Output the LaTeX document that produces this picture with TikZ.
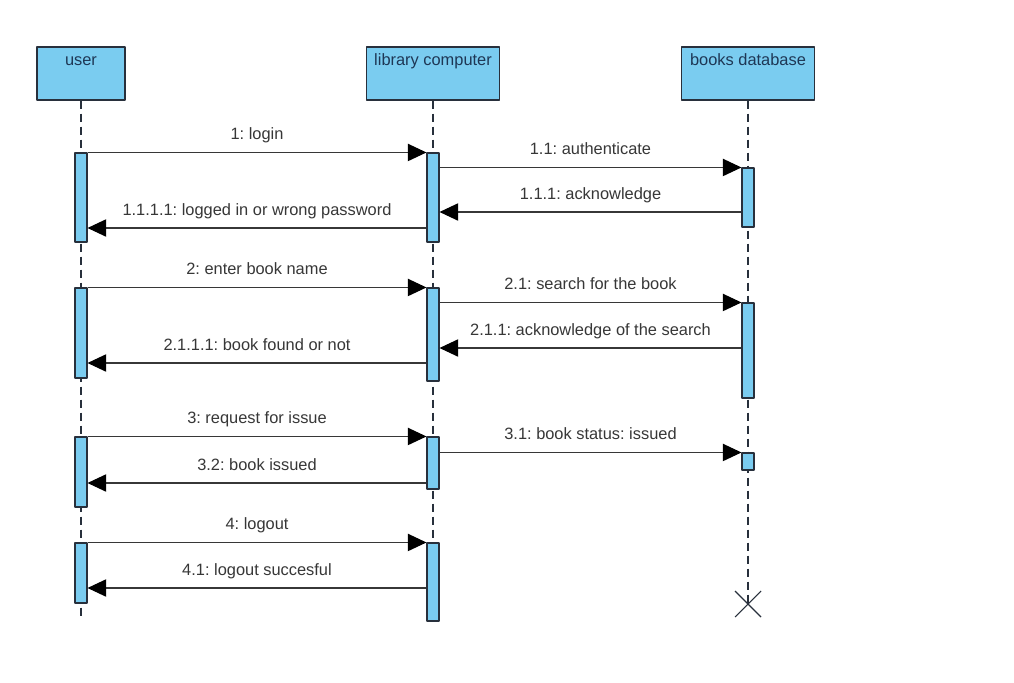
\documentclass[tikz,border=0pt]{standalone}
\usepackage{fontspec}
\setmainfont{Liberation Sans}
\usetikzlibrary{arrows.meta,fit}
\definecolor{actblue}{RGB}{122,204,240}
\definecolor{edge}{RGB}{40,48,60}
\definecolor{ink}{RGB}{55,55,55}
\definecolor{headink}{RGB}{30,55,85}
\frenchspacing

\begin{document}
\begin{tikzpicture}[x=0.75pt,y=-0.75pt,join=round,
  font=\fontsize{12.3}{14}\selectfont,
  obj/.style={draw=edge,fill=actblue,line width=0.9pt,minimum height=39.75pt,inner sep=0pt},
  objtext/.style={anchor=base,yshift=-14.5pt,text=headink},
  life/.style={draw=edge,line width=0.8pt,dash pattern=on 6pt off 3.75pt},
  act/.style={draw=edge,fill=actblue,line width=0.8pt,inner sep=0pt},
  msg/.style={draw=ink,line width=0.9pt,-{Triangle[length=14pt,width=13pt,color=black]}},
  lbl/.style={midway,anchor=base,yshift=9.75pt,text=ink}]
  \fill[white] (0,0) rectangle (1014,682);
  \useasboundingbox (0,0) rectangle (1014,682);
  % objects
  \node[obj,minimum width=66pt,label={[objtext]north:user}] (user) at (81,73.5) {};
  \node[obj,minimum width=99.75pt,label={[objtext]north:library computer}] (comp) at (433,73.5) {};
  \node[obj,minimum width=99.75pt,label={[objtext]north:books database}] (db) at (748,73.5) {};
  % lifelines
  \coordinate (userend) at (81,620);
  \coordinate (compend) at (433,621);
  \coordinate (dbend) at (748,604);
  \draw[life] (user) -- (userend);
  \draw[life] (comp) -- (compend);
  \draw[life] (db) -- (dbend);
  \draw[draw=edge,line width=0.8pt] (dbend) +(-13,-13) -- +(13,13) (dbend) +(-13,13) -- +(13,-13);
  % activations
  \node[act,fit={(75,153)(87,242)}] (u1) {};
  \node[act,fit={(427,153)(439,242)}] (c1) {};
  \node[act,fit={(742,168)(754,227)}] (d1) {};
  \node[act,fit={(75,288)(87,378)}] (u2) {};
  \node[act,fit={(427,288)(439,381)}] (c2) {};
  \node[act,fit={(742,303)(754,398)}] (d2) {};
  \node[act,fit={(75,437)(87,507)}] (u3) {};
  \node[act,fit={(427,437)(439,489)}] (c3) {};
  \node[act,fit={(742,453)(754,470)}] (d3) {};
  \node[act,fit={(75,543)(87,603)}] (u4) {};
  \node[act,fit={(427,543)(439,621)}] (c4) {};
  % return levels
  \coordinate (ack1) at (0,212);
  \coordinate (log1) at (0,228);
  \coordinate (ack2) at (0,348);
  \coordinate (fnd2) at (0,363);
  \coordinate (iss3) at (0,483);
  \coordinate (out4) at (0,588);
  % messages
  \draw[msg] (u1.north east) -- (c1.north west) node[lbl] {1: login};
  \draw[msg] (c1.east |- d1.north) -- (d1.north west) node[lbl] {1.1: authenticate};
  \draw[msg] (d1.west |- ack1) -- (c1.east |- ack1) node[lbl] {1.1.1: acknowledge};
  \draw[msg] (c1.west |- log1) -- (u1.east |- log1) node[lbl] {1.1.1.1: logged in or wrong password};
  \draw[msg] (u2.north east) -- (c2.north west) node[lbl] {2: enter book name};
  \draw[msg] (c2.east |- d2.north) -- (d2.north west) node[lbl] {2.1: search for the book};
  \draw[msg] (d2.west |- ack2) -- (c2.east |- ack2) node[lbl] {2.1.1: acknowledge of the search};
  \draw[msg] (c2.west |- fnd2) -- (u2.east |- fnd2) node[lbl] {2.1.1.1: book found or not};
  \draw[msg] (u3.north east) -- (c3.north west) node[lbl] {3: request for issue};
  \draw[msg] (c3.east |- d3.north) -- (d3.north west) node[lbl] {3.1: book status: issued};
  \draw[msg] (c3.west |- iss3) -- (u3.east |- iss3) node[lbl] {3.2: book issued};
  \draw[msg] (u4.north east) -- (c4.north west) node[lbl] {4: logout};
  \draw[msg] (c4.west |- out4) -- (u4.east |- out4) node[lbl] {4.1: logout succesful};
\end{tikzpicture}
\end{document}
